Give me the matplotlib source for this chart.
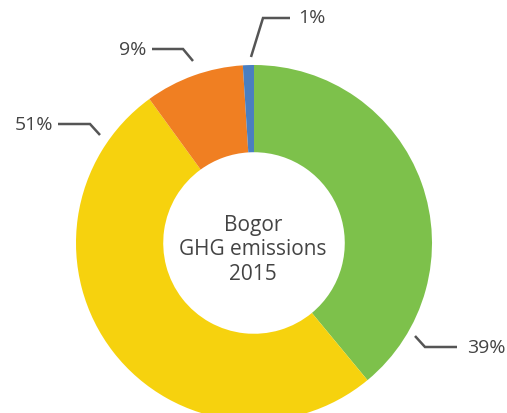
import matplotlib.pyplot as plt

# Dados (sentido horário a partir do topo)
sectors = ['Green', 'Yellow', 'Orange', 'Blue']
shares = [39, 51, 9, 1]
colors = ['#7dc14b', '#f6d20e', '#f07f22', '#4a7fc1']
labels = ['39%', '51%', '9%', '1%']

W, H = 507, 414
fig = plt.figure(figsize=(W / 100, H / 100), dpi=100)
ax = fig.add_axes([0, 0, 1, 1])

# coordenadas em pixels (y para cima)
cx, cy, r = 254, H - 244, 178
ax.pie(shares, colors=colors, startangle=90, counterclock=False,
       radius=r, center=(cx, cy),
       wedgeprops=dict(width=r * 0.49, linewidth=0))

ax.set_xlim(0, W)
ax.set_ylim(0, H)
ax.set_aspect('equal')
ax.axis('off')

ax.text(cx - 1, H - 250, 'Bogor\nGHG emissions\n2015', ha='center', va='center',
        fontsize=15, color='#444444', family='Open Sans', linespacing=1.2)

# linhas de chamada (pixels da imagem)
leaders = [
    ([415, 425, 457], [337, 348, 348], 467, 348, 'left'),
    ([100, 90, 58], [136, 125, 125], 53, 125, 'right'),
    ([193, 183, 152], [62, 50, 50], 146, 50, 'right'),
    ([251, 263, 290], [58, 19, 19], 298, 18, 'left'),
]
for (xs, ys, tx, ty, ha), lab in zip(leaders, labels):
    ax.plot(xs, [H - y for y in ys], color='#555555', lw=1.8,
            solid_capstyle='butt', solid_joinstyle='miter')
    ax.text(tx, H - ty, lab, ha=ha, va='center', fontsize=14,
            color='#444444', family='Open Sans')

fig.savefig('out.png', dpi=100, facecolor='white')
